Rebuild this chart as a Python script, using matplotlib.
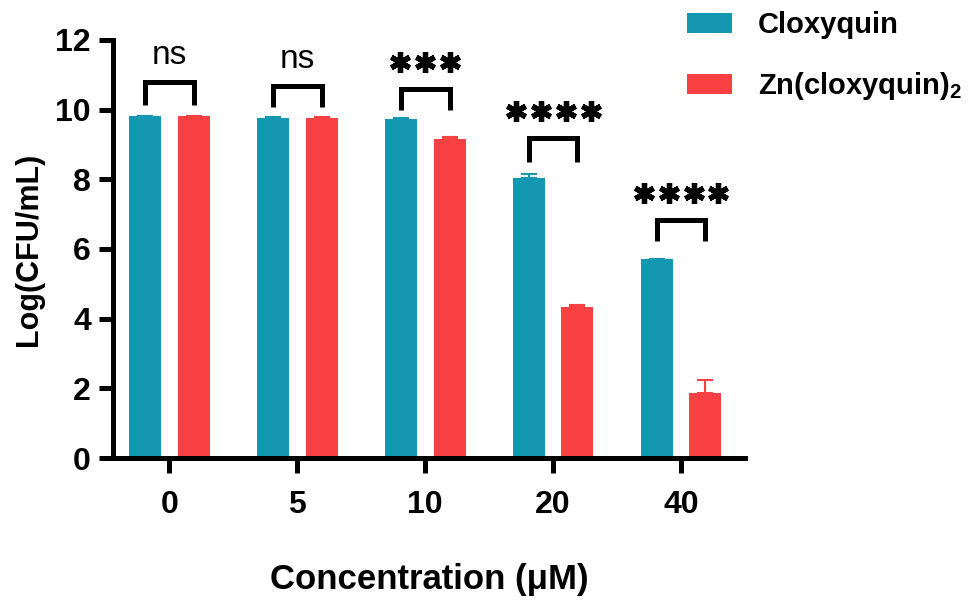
import matplotlib
matplotlib.use('Agg')
import matplotlib.pyplot as plt
import numpy as np

# data
conc = ['0', '5', '10', '20', '40']
cloxyquin = [9.81, 9.77, 9.74, 8.05, 5.70]
cloxyquin_err = [0.02, 0.02, 0.02, 0.11, 0.02]
zn_cloxyquin = [9.81, 9.77, 9.17, 4.34, 1.87]
zn_err = [0.02, 0.02, 0.04, 0.06, 0.37]
signif = ['ns', 'ns', '***', '****', '****']
bracket_top = [10.78, 10.67, 10.60, 9.20, 6.84]
bracket_leg = [10.14, 10.09, 10.00, 8.50, 6.24]

teal = '#1497B0'
red = '#F94144'

plt.rcParams['font.family'] = ['Liberation Sans', 'DejaVu Sans']
plt.rcParams['mathtext.default'] = 'regular'

fig = plt.figure(figsize=(9.72, 6.04), dpi=100)
ax = fig.add_axes([0.1163, 0.2417, 0.6502, 0.6921])

x = np.arange(len(conc))
w = 0.25
off = 0.19

b1 = ax.bar(x - off, cloxyquin, w, color=teal, label='Cloxyquin')
b2 = ax.bar(x + off, zn_cloxyquin, w, color=red, label='Zn(cloxyquin)$_2$')
ax.errorbar(x - off, cloxyquin, yerr=[np.zeros(5), cloxyquin_err], fmt='none',
            ecolor=teal, elinewidth=1.5, capsize=6, capthick=1.5)
ax.errorbar(x + off, zn_cloxyquin, yerr=[np.zeros(5), zn_err], fmt='none',
            ecolor=red, elinewidth=1.5, capsize=6, capthick=1.5)

# significance brackets
star_gap = 0.195  # spacing of asterisks in x units
for i in range(len(conc)):
    xl = x[i] - off
    xr = x[i] + off
    ax.plot([xl, xl, xr, xr], [bracket_leg[i], bracket_top[i], bracket_top[i], bracket_leg[i]],
            color='black', lw=3.6, solid_joinstyle='miter', solid_capstyle='butt')
    if signif[i] == 'ns':
        ax.text(x[i], bracket_top[i] + 0.53, signif[i], ha='center', va='baseline',
                fontsize=24)
    else:
        n = len(signif[i])
        sx = x[i] + (np.arange(n) - (n - 1) / 2) * star_gap
        ax.plot(sx, np.full(n, bracket_top[i] + 0.76), ls='none', marker=(6, 2, 0),
                markersize=15, mew=3.8, color='black')

ax.set_xlim(-0.44, 4.5)
ax.set_ylim(0, 12)
ax.set_yticks([0, 2, 4, 6, 8, 10, 12])
ax.set_xticks(x)
ax.set_xticklabels(conc)

for s in ['top', 'right']:
    ax.spines[s].set_visible(False)
for s in ['left', 'bottom']:
    ax.spines[s].set_linewidth(3.6)
ax.tick_params(axis='both', width=3.6, labelsize=23)
ax.tick_params(axis='x', length=11, pad=12)
ax.tick_params(axis='y', length=10, pad=6)
for lab in ax.get_xticklabels() + ax.get_yticklabels():
    lab.set_fontweight('bold')

ax.set_ylabel('Log(CFU/mL)', fontsize=22, fontweight='bold', labelpad=8)
ax.set_xlabel('Concentration (μM)', fontsize=25, fontweight='bold', labelpad=31)

leg = fig.legend(handles=[b1, b2], loc='upper left', bbox_to_anchor=(0.680, 1.025),
                 frameon=False, handlelength=1.55, handleheight=0.65,
                 labelspacing=1.06, handletextpad=0.86, prop={'weight': 'bold', 'size': 21})

fig.savefig('out.png', dpi=100)
